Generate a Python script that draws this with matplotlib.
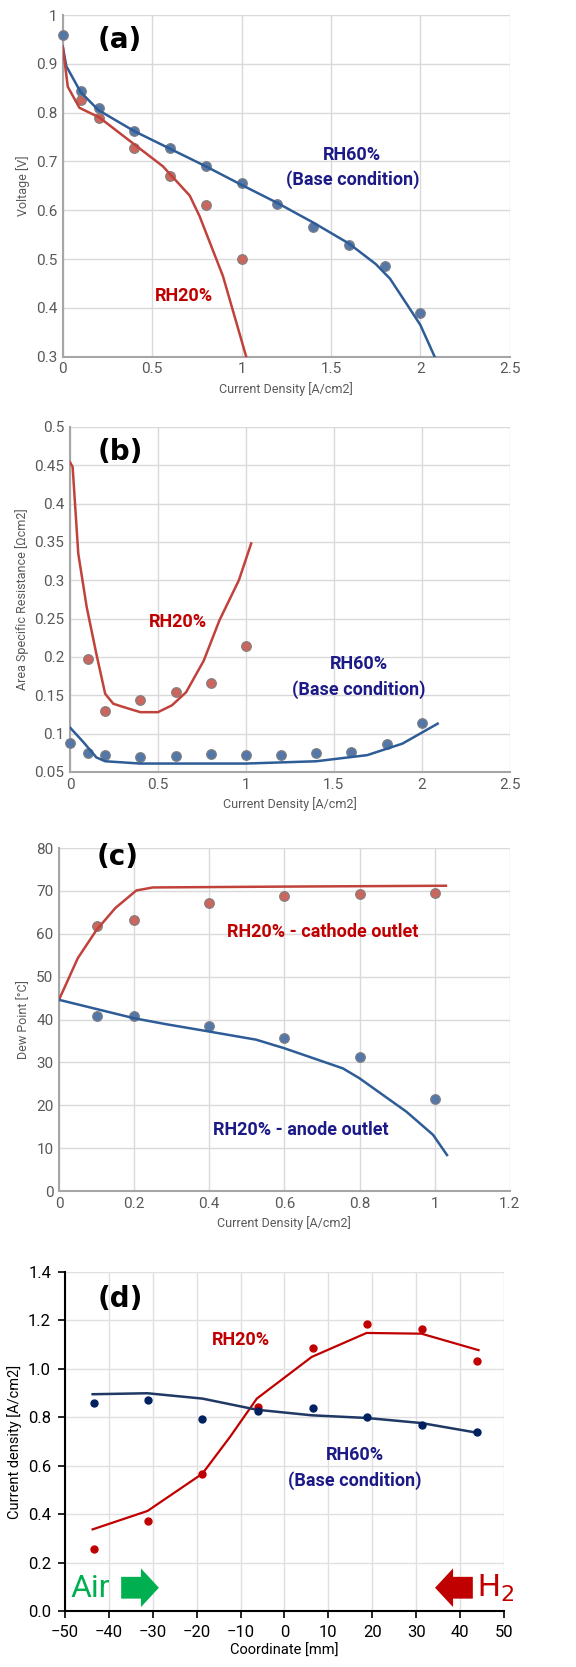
import matplotlib.pyplot as plt

# ---------- data (a) polarisation ----------
a_x60_pts = [0, 0.1, 0.2, 0.4, 0.6, 0.8, 1.0, 1.2, 1.4, 1.6, 1.8, 2.0]
a_y60_pts = [0.96, 0.845, 0.81, 0.762, 0.728, 0.69, 0.655, 0.612, 0.565, 0.528, 0.485, 0.39]
a_x20_pts = [0.1, 0.2, 0.4, 0.6, 0.8, 1.0]
a_y20_pts = [0.826, 0.788, 0.727, 0.671, 0.61, 0.5]
a_x60_line = [0, 0.02, 0.1, 0.2, 0.4, 0.6, 0.8, 1.0, 1.2, 1.4, 1.6, 1.75, 1.83, 1.92, 2.0, 2.08]
a_y60_line = [0.935, 0.895, 0.842, 0.805, 0.762, 0.726, 0.69, 0.652, 0.615, 0.575, 0.532, 0.49, 0.46, 0.41, 0.365, 0.30]
a_x20_line = [0, 0.028, 0.093, 0.205, 0.4, 0.56, 0.71, 0.765, 0.896, 1.026]
a_y20_line = [0.935, 0.853, 0.81, 0.79, 0.735, 0.69, 0.63, 0.588, 0.465, 0.30]

# ---------- data (b) ASR ----------
b_x20_pts = [0.1, 0.2, 0.4, 0.6, 0.8, 1.0]
b_y20_pts = [0.197, 0.13, 0.144, 0.154, 0.166, 0.214]
b_x60_pts = [0, 0.1, 0.2, 0.4, 0.6, 0.8, 1.0, 1.2, 1.4, 1.6, 1.8, 2.0]
b_y60_pts = [0.088, 0.075, 0.072, 0.07, 0.071, 0.073, 0.072, 0.072, 0.075, 0.076, 0.087, 0.114]
b_x20_line = [0, 0.015, 0.047, 0.095, 0.15, 0.2, 0.246, 0.30, 0.40, 0.50, 0.58, 0.66, 0.76, 0.85, 0.96, 1.03]
b_y20_line = [0.454, 0.448, 0.335, 0.265, 0.204, 0.152, 0.139, 0.135, 0.128, 0.128, 0.137, 0.154, 0.195, 0.248, 0.30, 0.348]
b_x60_line = [0, 0.076, 0.15, 0.2, 0.4, 1.0, 1.4, 1.69, 1.89, 1.99, 2.09]
b_y60_line = [0.108, 0.089, 0.069, 0.064, 0.061, 0.061, 0.064, 0.072, 0.087, 0.1, 0.113]

# ---------- data (c) dew point ----------
c_x_pts = [0.1, 0.2, 0.4, 0.6, 0.8, 1.0]
c_cath_pts = [61.9, 63.3, 67.2, 68.7, 69.2, 69.5]
c_anode_pts = [40.9, 40.9, 38.6, 35.6, 31.3, 21.4]
c_xc_line = [0, 0.05, 0.1, 0.15, 0.206, 0.25, 0.6, 1.03]
c_cath_line = [44.6, 54.3, 60.9, 66.0, 70.1, 70.8, 71.0, 71.2]
c_xa_line = [0, 0.2, 0.286, 0.4, 0.525, 0.6, 0.756, 0.8, 0.925, 0.996, 1.033]
c_anode_line = [44.6, 40.3, 38.9, 37.2, 35.3, 33.3, 28.6, 26.3, 18.5, 13.1, 8.4]

# ---------- data (d) local current density ----------
d_x = [-43.5, -31.2, -18.7, -6.1, 6.4, 18.9, 31.3, 43.8]
d_rh20_pts = [0.256, 0.373, 0.566, 0.841, 1.085, 1.187, 1.165, 1.032]
d_rh60_pts = [0.858, 0.871, 0.792, 0.825, 0.837, 0.803, 0.767, 0.739]
d_xl = [-43.7, -31.2, -18.7, -12.4, -6.3, 6.2, 18.7, 31.2, 44.2]
d_rh20_line = [0.337, 0.413, 0.567, 0.719, 0.877, 1.049, 1.148, 1.145, 1.077]
d_xl60 = [-43.7, -31.2, -18.7, -6.3, 6.2, 18.7, 31.2, 44.2]
d_rh60_line = [0.895, 0.899, 0.877, 0.831, 0.808, 0.797, 0.776, 0.735]

BLUE_L = '#2E5C96'
RED_L = '#C0423B'
BLUE_M = '#5577A8'
RED_M = '#C9675F'
NAVY_T = '#1C1A86'
RED_T = '#C00000'
GRID = '#D9D9D9'
TICK = '#595959'
FONT = ['Roboto', 'DejaVu Sans']

fig = plt.figure(figsize=(5.76, 16.67), dpi=100)


def style_excel(ax):
    ax.grid(True, color=GRID, lw=1.0)
    ax.set_axisbelow(True)
    for s in ['top', 'right']:
        ax.spines[s].set_visible(False)
    for s in ['left', 'bottom']:
        ax.spines[s].set_color('#A6A6A6')
        ax.spines[s].set_linewidth(1.5)
    ax.tick_params(length=0, labelsize=11, labelcolor=TICK, pad=4)
    for lab in ax.get_xticklabels() + ax.get_yticklabels():
        lab.set_family(FONT)


def pts(ax, x, y, fc):
    ax.plot(x, y, 'o', ms=7, mfc=fc, mec='#808080', mew=0.8, zorder=3, clip_on=False)


# (a)
ax = fig.add_axes([0.109, 0.786, 0.776, 0.205])
ax.plot(a_x60_line, a_y60_line, color=BLUE_L, lw=1.8, zorder=4)
ax.plot(a_x20_line, a_y20_line, color=RED_L, lw=1.8, zorder=4)
pts(ax, a_x60_pts, a_y60_pts, BLUE_M)
pts(ax, a_x20_pts, a_y20_pts, RED_M)
ax.set_xlim(0, 2.5)
ax.set_ylim(0.3, 1.0)
ax.set_xticks([0, 0.5, 1, 1.5, 2, 2.5])
ax.set_xticklabels(['0', '0.5', '1', '1.5', '2', '2.5'])
ax.set_yticks([0.3, 0.4, 0.5, 0.6, 0.7, 0.8, 0.9, 1.0])
ax.set_yticklabels(['0.3', '0.4', '0.5', '0.6', '0.7', '0.8', '0.9', '1'])
style_excel(ax)
ax.set_xlabel('Current Density [A/cm2]', fontsize=9, color=TICK, family=FONT)
ax.set_ylabel('Voltage [V]', fontsize=9, color=TICK, family=FONT)
ax.text(0.317, 0.949, '(a)', fontsize=20, fontweight='bold', ha='center', va='center')
ax.text(1.62, 0.714, 'RH60%', fontsize=13, fontweight='bold', color=NAVY_T, ha='center', va='center', family=FONT)
ax.text(1.62, 0.663, '(Base condition)', fontsize=13, fontweight='bold', color=NAVY_T, ha='center', va='center', family=FONT)
ax.text(0.68, 0.424, 'RH20%', fontsize=13, fontweight='bold', color=RED_T, ha='center', va='center', family=FONT)

# (b)
ax = fig.add_axes([0.1215, 0.5369, 0.7635, 0.207])
ax.plot(b_x20_line, b_y20_line, color=RED_L, lw=1.8, zorder=4)
ax.plot(b_x60_line, b_y60_line, color=BLUE_L, lw=1.8, zorder=4)
pts(ax, b_x20_pts, b_y20_pts, RED_M)
pts(ax, b_x60_pts, b_y60_pts, BLUE_M)
ax.set_xlim(0, 2.5)
ax.set_ylim(0.05, 0.5)
ax.set_xticks([0, 0.5, 1, 1.5, 2, 2.5])
ax.set_xticklabels(['0', '0.5', '1', '1.5', '2', '2.5'])
ax.set_yticks([0.05, 0.1, 0.15, 0.2, 0.25, 0.3, 0.35, 0.4, 0.45, 0.5])
ax.set_yticklabels(['0.05', '0.1', '0.15', '0.2', '0.25', '0.3', '0.35', '0.4', '0.45', '0.5'])
style_excel(ax)
ax.set_xlabel('Current Density [A/cm2]', fontsize=9, color=TICK, family=FONT)
ax.set_ylabel('Area Specific Resistance [Ωcm2]', fontsize=9, color=TICK, family=FONT)
ax.text(0.284, 0.467, '(b)', fontsize=20, fontweight='bold', ha='center', va='center')
ax.text(0.615, 0.245, 'RH20%', fontsize=13, fontweight='bold', color=RED_T, ha='center', va='center', family=FONT)
ax.text(1.64, 0.191, 'RH60%', fontsize=13, fontweight='bold', color=NAVY_T, ha='center', va='center', family=FONT)
ax.text(1.64, 0.158, '(Base condition)', fontsize=13, fontweight='bold', color=NAVY_T, ha='center', va='center', family=FONT)

# (c)
ax = fig.add_axes([0.1024, 0.2855, 0.7826, 0.2058])
ax.plot(c_xc_line, c_cath_line, color=RED_L, lw=1.8, zorder=4)
ax.plot(c_xa_line, c_anode_line, color=BLUE_L, lw=1.8, zorder=4)
pts(ax, c_x_pts, c_cath_pts, RED_M)
pts(ax, c_x_pts, c_anode_pts, BLUE_M)
ax.set_xlim(0, 1.2)
ax.set_ylim(0, 80)
ax.set_xticks([0, 0.2, 0.4, 0.6, 0.8, 1.0, 1.2])
ax.set_xticklabels(['0', '0.2', '0.4', '0.6', '0.8', '1', '1.2'])
ax.set_yticks(range(0, 81, 10))
style_excel(ax)
ax.set_xlabel('Current Density [A/cm2]', fontsize=9, color=TICK, family=FONT)
ax.set_ylabel('Dew Point [°C]', fontsize=9, color=TICK, family=FONT)
ax.text(0.157, 78, '(c)', fontsize=20, fontweight='bold', ha='center', va='center')
ax.text(0.703, 60.5, 'RH20% - cathode outlet', fontsize=13, fontweight='bold', color=RED_T, ha='center', va='center', family=FONT)
ax.text(0.645, 14.2, 'RH20% - anode outlet', fontsize=13, fontweight='bold', color=NAVY_T, ha='center', va='center', family=FONT)

# (d)
ax = fig.add_axes([0.1128, 0.0336, 0.7622, 0.2034])
ax.plot(d_xl, d_rh20_line, color='#C00000', lw=1.6, zorder=4)
ax.plot(d_xl60, d_rh60_line, color='#1F3864', lw=1.8, zorder=4)
ax.plot(d_x, d_rh20_pts, 'o', ms=5, color='#C00000', zorder=5)
ax.plot(d_x, d_rh60_pts, 'o', ms=5, color='#002060', zorder=5)
ax.set_xlim(-50, 50)
ax.set_ylim(0, 1.4)
ax.set_xticks(range(-50, 51, 10))
ax.set_yticks([0, 0.2, 0.4, 0.6, 0.8, 1.0, 1.2, 1.4])
ax.set_yticklabels(['0.0', '0.2', '0.4', '0.6', '0.8', '1.0', '1.2', '1.4'])
ax.grid(True, color='#E0E0E0', lw=1.0)
ax.set_axisbelow(True)
for s in ['top', 'right']:
    ax.spines[s].set_visible(False)
for s in ['left', 'bottom']:
    ax.spines[s].set_color('black')
    ax.spines[s].set_linewidth(1.5)
ax.tick_params(direction='out', length=5, width=1.2, labelsize=12, pad=5)
for lab in ax.get_xticklabels() + ax.get_yticklabels():
    lab.set_family(FONT)
ax.set_xlabel('Coordinate [mm]', fontsize=10.5, family=FONT, labelpad=3)
ax.set_ylabel('Current density [A/cm2]', fontsize=10.5, family=FONT)
ax.text(-37.3, 1.29, '(d)', fontsize=20, fontweight='bold', ha='center', va='center')
ax.text(-10, 1.118, 'RH20%', fontsize=13, fontweight='bold', color=RED_T, ha='center', va='center', family=FONT)
ax.text(16.1, 0.643, 'RH60%', fontsize=13, fontweight='bold', color=NAVY_T, ha='center', va='center', family=FONT)
ax.text(16.1, 0.54, '(Base condition)', fontsize=13, fontweight='bold', color=NAVY_T, ha='center', va='center', family=FONT)
ax.text(-44.2, 0.092, 'Air', fontsize=23, color='#00B050', ha='center', va='center', family=FONT)
ax.text(48.0, 0.092, r'H$_2$', fontsize=23, color='#C00000', ha='center', va='center', family=FONT)
ax.arrow(-37.2, 0.096, 4.5, 0, width=0.09, head_width=0.16, head_length=4.1,
         length_includes_head=False, color='#00B050', lw=0, zorder=6)
ax.arrow(42.9, 0.096, -4.5, 0, width=0.09, head_width=0.16, head_length=4.1,
         length_includes_head=False, color='#C00000', lw=0, zorder=6)

fig.savefig('out.png', dpi=100)
